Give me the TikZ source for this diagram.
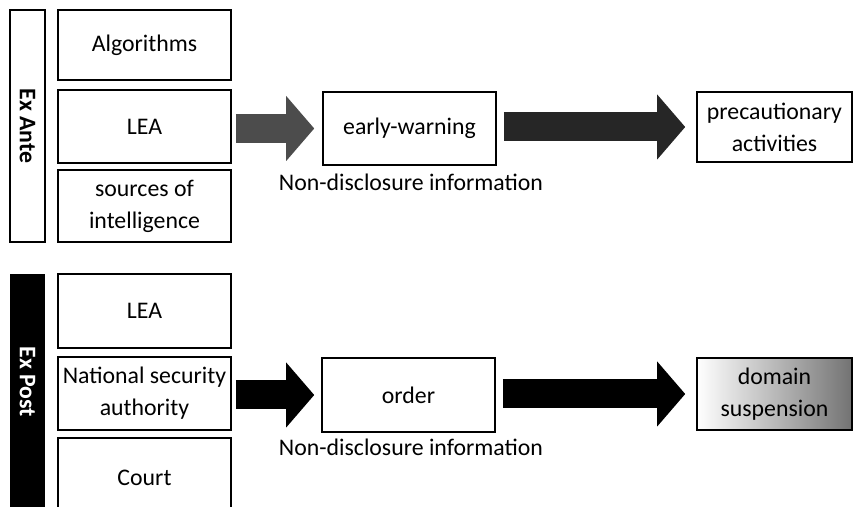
\documentclass[tikz,border=0pt]{standalone}
\usepackage{fontspec}
\setmainfont{Carlito}
\usetikzlibrary{arrows.meta}

\tikzset{
  box/.style={draw, line width=0.8pt, minimum width=86.5pt, minimum height=36pt,
    align=center, inner sep=1pt, font=\fontsize{11.9}{16}\selectfont},
  bigarrow/.style={line width=14.5pt,
    -{Triangle[length=14pt,width=32.5pt,line width=0pt]}},
  note/.style={font=\fontsize{11.9}{16}\selectfont},
}

\begin{document}
\begin{tikzpicture}[x=0.5pt,y=-0.5pt]
\clip (0,0) rectangle (859,507);

% ex ante part
\node[box, rotate=-90, minimum width=116pt, minimum height=17.5pt, font=\fontsize{11.9}{16}\selectfont\bfseries] (exante) at (27.5,126) {Ex Ante};
\node[box, minimum height=35pt] (algo) at (144.5,45) {Algorithms};
\node[box, minimum height=36.5pt] (lea1) at (144.5,126.5) {LEA};
\node[box] (sources) at (144.5,206) {sources of\\intelligence};
\node[box, minimum height=36.5pt] (warn) at (409.5,128.5) {early-warning};
\node[box, minimum width=77.5pt, minimum height=35pt] (precaution) at (774.5,127) {precautionary\\activities};
\node[note] (info1) at (411,182) {Non-disclosure information};

\draw[bigarrow, black!70, shorten <=2pt, shorten >=4pt] (lea1.east |- warn) -- (warn.west);
\draw[bigarrow, black!85, shorten <=3.5pt, shorten >=5.5pt] (warn.east |- precaution) -- (precaution.west);

% ex post part
\node[fill=black, minimum width=17.5pt, minimum height=123pt, inner sep=0pt] (expost) at (27.5,397) {};
\node[rotate=-90, text=white, font=\fontsize{11.9}{16}\selectfont\bfseries] (expostlabel) at (27.5,382) {Ex Post};
\node[box, minimum height=37pt] (lea2) at (144.5,311) {LEA};
\node[box, minimum height=36.5pt] (nsa) at (144.5,393.5) {National security\\authority};
\node[box, minimum height=40pt] (court) at (144.5,478) {Court};
\node[box, minimum height=37pt] (order) at (408.5,395) {order};
\node[box, minimum width=77.5pt, left color=white, right color=black!55] (suspension) at (774.5,394) {domain\\suspension};
\node[note] (info2) at (411,447) {Non-disclosure information};

\draw[bigarrow, black, shorten <=2pt, shorten >=3.5pt] (nsa.east |- order) -- (order.west);
\draw[bigarrow, black, shorten <=3.5pt, shorten >=5.5pt] (order.east |- suspension) -- (suspension.west);
\end{tikzpicture}
\end{document}
